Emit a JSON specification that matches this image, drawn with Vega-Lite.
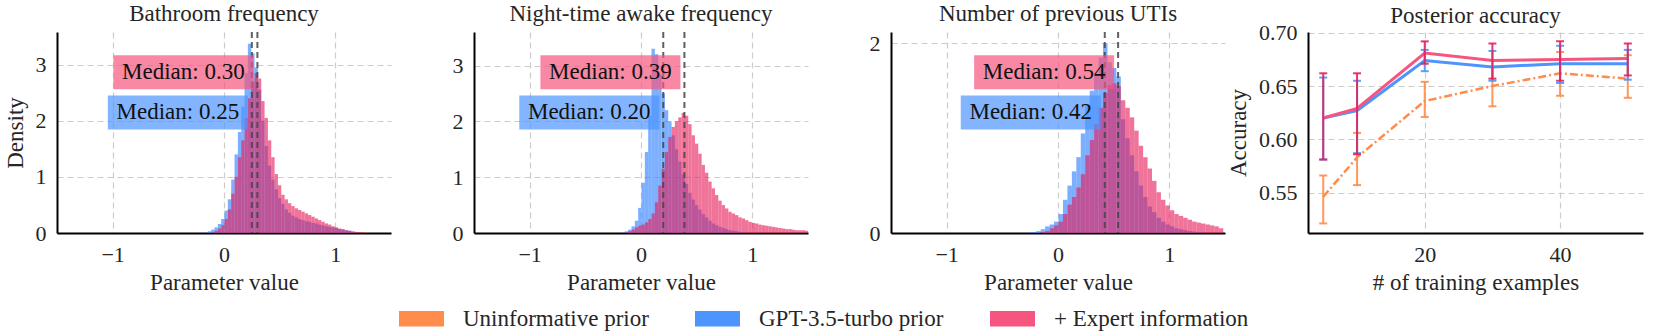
{
  "$schema": "https://vega.github.io/schema/vega-lite/v6.json",
  "padding": {"left": 4, "top": 3, "right": 5, "bottom": 2},
  "background": "white",
  "config": {
    "font": "Liberation Serif",
    "view": {"stroke": null},
    "axis": {
      "labelFont": "Liberation Serif", "labelFontSize": 22, "labelColor": "#262626",
      "titleFont": "Liberation Serif", "titleFontSize": 23, "titleFontWeight": "normal", "titleColor": "#262626",
      "domainColor": "#000000", "domainWidth": 2, "ticks": false,
      "grid": true, "gridColor": "#cccccc", "gridDash": [6, 4], "gridWidth": 1.2,
      "labelPadding": 11, "titlePadding": 6
    },
    "axisY": {"titlePadding": 8},
    "title": {"font": "Liberation Serif", "fontSize": 23, "fontWeight": "normal", "color": "#262626", "offset": 5},
    "legend": {
      "orient": "bottom", "direction": "horizontal", "title": null,
      "symbolType": "M-1,-0.34H1V0.34H-1Z", "symbolSize": 2025, "symbolStrokeWidth": 0, "symbolOpacity": 1,
      "labelFont": "Liberation Serif", "labelFontSize": 23, "labelColor": "#262626", "labelLimit": 400,
      "labelOffset": 19, "columnPadding": 46, "offset": 2,
      "layout": {"bottom": {"anchor": "middle"}}
    }
  },
  "datasets": {
    "bath_g": [
      {"b": -0.18, "d": 0.01}, {"b": -0.15, "d": 0.03}, {"b": -0.12, "d": 0.06}, {"b": -0.09, "d": 0.1},
      {"b": -0.06, "d": 0.16}, {"b": -0.03, "d": 0.25}, {"b": 0.0, "d": 0.4}, {"b": 0.03, "d": 0.6},
      {"b": 0.06, "d": 0.95}, {"b": 0.09, "d": 1.4}, {"b": 0.12, "d": 1.8}, {"b": 0.15, "d": 2.25},
      {"b": 0.18, "d": 2.85}, {"b": 0.21, "d": 3.37}, {"b": 0.24, "d": 3.2}, {"b": 0.27, "d": 2.95},
      {"b": 0.3, "d": 2.55}, {"b": 0.33, "d": 2.0}, {"b": 0.36, "d": 1.55}, {"b": 0.39, "d": 1.2},
      {"b": 0.42, "d": 0.95}, {"b": 0.45, "d": 0.78}, {"b": 0.48, "d": 0.62}, {"b": 0.51, "d": 0.52},
      {"b": 0.54, "d": 0.42}, {"b": 0.57, "d": 0.36}, {"b": 0.6, "d": 0.31}, {"b": 0.63, "d": 0.28},
      {"b": 0.66, "d": 0.25}, {"b": 0.69, "d": 0.23}, {"b": 0.72, "d": 0.21}, {"b": 0.75, "d": 0.2},
      {"b": 0.78, "d": 0.18}, {"b": 0.81, "d": 0.17}, {"b": 0.84, "d": 0.15}, {"b": 0.87, "d": 0.14},
      {"b": 0.9, "d": 0.12}, {"b": 0.93, "d": 0.11}, {"b": 0.96, "d": 0.1}, {"b": 0.99, "d": 0.09},
      {"b": 1.02, "d": 0.07}, {"b": 1.05, "d": 0.06}, {"b": 1.08, "d": 0.05}, {"b": 1.11, "d": 0.04},
      {"b": 1.14, "d": 0.02}, {"b": 1.17, "d": 0.01}
    ],
    "bath_e": [
      {"b": -0.12, "d": 0.01}, {"b": -0.09, "d": 0.04}, {"b": -0.06, "d": 0.08}, {"b": -0.03, "d": 0.14},
      {"b": 0.0, "d": 0.25}, {"b": 0.03, "d": 0.42}, {"b": 0.06, "d": 0.7}, {"b": 0.09, "d": 1.0},
      {"b": 0.12, "d": 1.35}, {"b": 0.15, "d": 1.65}, {"b": 0.18, "d": 2.05}, {"b": 0.21, "d": 2.4},
      {"b": 0.24, "d": 2.7}, {"b": 0.27, "d": 2.85}, {"b": 0.3, "d": 2.75}, {"b": 0.33, "d": 2.35},
      {"b": 0.36, "d": 2.05}, {"b": 0.39, "d": 1.65}, {"b": 0.42, "d": 1.35}, {"b": 0.45, "d": 1.05},
      {"b": 0.48, "d": 0.85}, {"b": 0.51, "d": 0.68}, {"b": 0.54, "d": 0.6}, {"b": 0.57, "d": 0.53},
      {"b": 0.6, "d": 0.48}, {"b": 0.63, "d": 0.44}, {"b": 0.66, "d": 0.41}, {"b": 0.69, "d": 0.38},
      {"b": 0.72, "d": 0.35}, {"b": 0.75, "d": 0.32}, {"b": 0.78, "d": 0.29}, {"b": 0.81, "d": 0.26},
      {"b": 0.84, "d": 0.23}, {"b": 0.87, "d": 0.2}, {"b": 0.9, "d": 0.17}, {"b": 0.93, "d": 0.15},
      {"b": 0.96, "d": 0.12}, {"b": 0.99, "d": 0.1}, {"b": 1.02, "d": 0.08}, {"b": 1.05, "d": 0.07},
      {"b": 1.08, "d": 0.05}, {"b": 1.11, "d": 0.04}, {"b": 1.14, "d": 0.03}, {"b": 1.17, "d": 0.02},
      {"b": 1.2, "d": 0.015}, {"b": 1.23, "d": 0.01}
    ],
    "night_g": [
      {"b": -0.18, "d": 0.01}, {"b": -0.15, "d": 0.03}, {"b": -0.12, "d": 0.06}, {"b": -0.09, "d": 0.12},
      {"b": -0.06, "d": 0.22}, {"b": -0.03, "d": 0.45}, {"b": 0.0, "d": 0.9}, {"b": 0.03, "d": 1.45},
      {"b": 0.06, "d": 2.1}, {"b": 0.09, "d": 3.3}, {"b": 0.12, "d": 3.2}, {"b": 0.15, "d": 2.85},
      {"b": 0.18, "d": 2.5}, {"b": 0.21, "d": 2.2}, {"b": 0.24, "d": 2.0}, {"b": 0.27, "d": 1.75},
      {"b": 0.3, "d": 1.5}, {"b": 0.33, "d": 1.28}, {"b": 0.36, "d": 1.05}, {"b": 0.39, "d": 0.88},
      {"b": 0.42, "d": 0.72}, {"b": 0.45, "d": 0.6}, {"b": 0.48, "d": 0.5}, {"b": 0.51, "d": 0.42},
      {"b": 0.54, "d": 0.34}, {"b": 0.57, "d": 0.28}, {"b": 0.6, "d": 0.22}, {"b": 0.63, "d": 0.17},
      {"b": 0.66, "d": 0.14}, {"b": 0.69, "d": 0.11}, {"b": 0.72, "d": 0.09}, {"b": 0.75, "d": 0.07},
      {"b": 0.78, "d": 0.05}, {"b": 0.81, "d": 0.04}, {"b": 0.84, "d": 0.03}, {"b": 0.87, "d": 0.02},
      {"b": 0.9, "d": 0.01}
    ],
    "night_e": [
      {"b": -0.15, "d": 0.01}, {"b": -0.12, "d": 0.03}, {"b": -0.09, "d": 0.06}, {"b": -0.06, "d": 0.1},
      {"b": -0.03, "d": 0.13}, {"b": 0.0, "d": 0.15}, {"b": 0.03, "d": 0.19}, {"b": 0.06, "d": 0.25},
      {"b": 0.09, "d": 0.35}, {"b": 0.12, "d": 0.55}, {"b": 0.15, "d": 0.85}, {"b": 0.18, "d": 1.15},
      {"b": 0.21, "d": 1.45}, {"b": 0.24, "d": 1.72}, {"b": 0.27, "d": 1.9}, {"b": 0.3, "d": 2.0},
      {"b": 0.33, "d": 2.07}, {"b": 0.36, "d": 2.15}, {"b": 0.39, "d": 2.1}, {"b": 0.42, "d": 1.95},
      {"b": 0.45, "d": 1.75}, {"b": 0.48, "d": 1.6}, {"b": 0.51, "d": 1.42}, {"b": 0.54, "d": 1.22},
      {"b": 0.57, "d": 1.08}, {"b": 0.6, "d": 0.92}, {"b": 0.63, "d": 0.8}, {"b": 0.66, "d": 0.68},
      {"b": 0.69, "d": 0.58}, {"b": 0.72, "d": 0.5}, {"b": 0.75, "d": 0.44}, {"b": 0.78, "d": 0.38},
      {"b": 0.81, "d": 0.35}, {"b": 0.84, "d": 0.32}, {"b": 0.87, "d": 0.28}, {"b": 0.9, "d": 0.26},
      {"b": 0.93, "d": 0.23}, {"b": 0.96, "d": 0.2}, {"b": 0.99, "d": 0.18}, {"b": 1.02, "d": 0.17},
      {"b": 1.05, "d": 0.15}, {"b": 1.08, "d": 0.14}, {"b": 1.11, "d": 0.13}, {"b": 1.14, "d": 0.12},
      {"b": 1.17, "d": 0.11}, {"b": 1.2, "d": 0.1}, {"b": 1.23, "d": 0.09}, {"b": 1.26, "d": 0.08},
      {"b": 1.29, "d": 0.07}, {"b": 1.32, "d": 0.07}, {"b": 1.35, "d": 0.06}, {"b": 1.38, "d": 0.05},
      {"b": 1.41, "d": 0.05}, {"b": 1.44, "d": 0.05}, {"b": 1.47, "d": 0.04}
    ],
    "uti_g": [
      {"b": -0.24, "d": 0.01}, {"b": -0.2, "d": 0.02}, {"b": -0.16, "d": 0.04}, {"b": -0.12, "d": 0.07},
      {"b": -0.08, "d": 0.09}, {"b": -0.04, "d": 0.12}, {"b": 0.0, "d": 0.2}, {"b": 0.04, "d": 0.35},
      {"b": 0.08, "d": 0.5}, {"b": 0.12, "d": 0.65}, {"b": 0.16, "d": 0.8}, {"b": 0.2, "d": 1.05},
      {"b": 0.24, "d": 1.35}, {"b": 0.28, "d": 1.5}, {"b": 0.32, "d": 1.67}, {"b": 0.36, "d": 1.85},
      {"b": 0.4, "d": 2.0}, {"b": 0.44, "d": 1.8}, {"b": 0.48, "d": 1.74}, {"b": 0.52, "d": 1.65},
      {"b": 0.56, "d": 1.2}, {"b": 0.6, "d": 1.0}, {"b": 0.64, "d": 0.82}, {"b": 0.68, "d": 0.65},
      {"b": 0.72, "d": 0.5}, {"b": 0.76, "d": 0.38}, {"b": 0.8, "d": 0.28}, {"b": 0.84, "d": 0.22},
      {"b": 0.88, "d": 0.16}, {"b": 0.92, "d": 0.12}, {"b": 0.96, "d": 0.09}, {"b": 1.0, "d": 0.07},
      {"b": 1.04, "d": 0.05}, {"b": 1.08, "d": 0.04}, {"b": 1.12, "d": 0.03}, {"b": 1.16, "d": 0.02},
      {"b": 1.2, "d": 0.015}, {"b": 1.24, "d": 0.01}, {"b": 1.28, "d": 0.01}
    ],
    "uti_e": [
      {"b": -0.16, "d": 0.01}, {"b": -0.12, "d": 0.02}, {"b": -0.08, "d": 0.05}, {"b": -0.04, "d": 0.08},
      {"b": 0.0, "d": 0.12}, {"b": 0.04, "d": 0.2}, {"b": 0.08, "d": 0.3}, {"b": 0.12, "d": 0.38},
      {"b": 0.16, "d": 0.48}, {"b": 0.2, "d": 0.62}, {"b": 0.24, "d": 0.82}, {"b": 0.28, "d": 0.98},
      {"b": 0.32, "d": 1.15}, {"b": 0.36, "d": 1.32}, {"b": 0.4, "d": 1.48}, {"b": 0.44, "d": 1.56},
      {"b": 0.48, "d": 1.58}, {"b": 0.52, "d": 1.55}, {"b": 0.56, "d": 1.4}, {"b": 0.6, "d": 1.32},
      {"b": 0.64, "d": 1.22}, {"b": 0.68, "d": 1.08}, {"b": 0.72, "d": 0.92}, {"b": 0.76, "d": 0.8},
      {"b": 0.8, "d": 0.68}, {"b": 0.84, "d": 0.55}, {"b": 0.88, "d": 0.43}, {"b": 0.92, "d": 0.35},
      {"b": 0.96, "d": 0.29}, {"b": 1.0, "d": 0.24}, {"b": 1.04, "d": 0.2}, {"b": 1.08, "d": 0.18},
      {"b": 1.12, "d": 0.16}, {"b": 1.16, "d": 0.14}, {"b": 1.2, "d": 0.12}, {"b": 1.24, "d": 0.11},
      {"b": 1.28, "d": 0.1}, {"b": 1.32, "d": 0.09}, {"b": 1.36, "d": 0.08}, {"b": 1.4, "d": 0.07},
      {"b": 1.44, "d": 0.05}
    ],
    "med": [
      {"p": "bath", "s": "e", "m": 0.30, "label": "Median: 0.30"},
      {"p": "bath", "s": "g", "m": 0.25, "label": "Median: 0.25"},
      {"p": "night", "s": "e", "m": 0.39, "label": "Median: 0.39"},
      {"p": "night", "s": "g", "m": 0.20, "label": "Median: 0.20"},
      {"p": "uti", "s": "e", "m": 0.54, "label": "Median: 0.54"},
      {"p": "uti", "s": "g", "m": 0.42, "label": "Median: 0.42"}
    ],
    "acc": [
      {"s": "Uninformative prior", "n": 5, "a": 0.546, "lo": 0.521, "hi": 0.566},
      {"s": "Uninformative prior", "n": 10, "a": 0.583, "lo": 0.557, "hi": 0.606},
      {"s": "Uninformative prior", "n": 20, "a": 0.636, "lo": 0.621, "hi": 0.654},
      {"s": "Uninformative prior", "n": 30, "a": 0.65, "lo": 0.631, "hi": 0.668},
      {"s": "Uninformative prior", "n": 40, "a": 0.662, "lo": 0.641, "hi": 0.682},
      {"s": "Uninformative prior", "n": 50, "a": 0.657, "lo": 0.639, "hi": 0.679},
      {"s": "GPT-3.5-turbo prior", "n": 5, "a": 0.62, "lo": 0.581, "hi": 0.658},
      {"s": "GPT-3.5-turbo prior", "n": 10, "a": 0.627, "lo": 0.587, "hi": 0.655},
      {"s": "GPT-3.5-turbo prior", "n": 20, "a": 0.674, "lo": 0.664, "hi": 0.684},
      {"s": "GPT-3.5-turbo prior", "n": 30, "a": 0.668, "lo": 0.655, "hi": 0.683},
      {"s": "GPT-3.5-turbo prior", "n": 40, "a": 0.671, "lo": 0.653, "hi": 0.688},
      {"s": "GPT-3.5-turbo prior", "n": 50, "a": 0.671, "lo": 0.656, "hi": 0.684},
      {"s": "+ Expert information", "n": 5, "a": 0.62, "lo": 0.581, "hi": 0.662},
      {"s": "+ Expert information", "n": 10, "a": 0.629, "lo": 0.586, "hi": 0.662},
      {"s": "+ Expert information", "n": 20, "a": 0.681, "lo": 0.671, "hi": 0.692},
      {"s": "+ Expert information", "n": 30, "a": 0.674, "lo": 0.657, "hi": 0.69},
      {"s": "+ Expert information", "n": 40, "a": 0.675, "lo": 0.655, "hi": 0.692},
      {"s": "+ Expert information", "n": 50, "a": 0.676, "lo": 0.66, "hi": 0.69}
    ]
  },
  "spacing": 83,
  "bounds": "flush",
  "hconcat": [
    {
      "width": 334, "height": 201,
      "title": "Bathroom frequency",
      "layer": [
        {
          "data": {"name": "bath_g"},
          "mark": {"type": "bar", "binSpacing": 0, "opacity": 0.64, "color": "#3282FF", "clip": true},
          "encoding": {
            "x": {"field": "b", "type": "quantitative", "bin": {"binned": true, "step": 0.03},
                  "scale": {"domain": [-1.5, 1.5], "nice": false, "zero": false},
                  "axis": {"values": [-1, 0, 1], "title": "Parameter value", "format": "d"}},
            "y": {"field": "d", "type": "quantitative", "scale": {"domain": [0, 3.58], "nice": false},
                  "axis": {"values": [0, 1, 2, 3], "title": "Density", "format": "d"}}
          }
        },
        {
          "data": {"name": "bath_e"},
          "mark": {"type": "bar", "binSpacing": 0, "opacity": 0.62, "color": "#E61E5A", "clip": true},
          "encoding": {
            "x": {"field": "b", "type": "quantitative", "bin": {"binned": true, "step": 0.03}},
            "y": {"field": "d", "type": "quantitative"}
          }
        },
        {
          "data": {"name": "med"},
          "transform": [{"filter": "datum.p === 'bath'"}],
          "mark": {"type": "rule", "strokeDash": [6, 4], "strokeWidth": 2, "color": "#444444", "opacity": 0.85},
          "encoding": {"x": {"field": "m", "type": "quantitative"}}
        },
        {
          "data": {"name": "med"},
          "transform": [{"filter": "datum.p === 'bath' && datum.s === 'e'"}],
          "mark": {"type": "point", "shape": "M-1,-0.243H1V0.243H-1Z", "size": 19600, "filled": true, "opacity": 0.7, "color": "#F5557E", "strokeWidth": 0, "xOffset": -74},
          "encoding": {"x": {"field": "m", "type": "quantitative"}, "y": {"datum": 2.864}}
        },
        {
          "data": {"name": "med"},
          "transform": [{"filter": "datum.p === 'bath' && datum.s === 'g'"}],
          "mark": {"type": "point", "shape": "M-1,-0.243H1V0.243H-1Z", "size": 19600, "filled": true, "opacity": 0.7, "color": "#4D94FF", "strokeWidth": 0, "xOffset": -74},
          "encoding": {"x": {"field": "m", "type": "quantitative"}, "y": {"datum": 2.148}}
        },
        {
          "data": {"name": "med"},
          "transform": [{"filter": "datum.p === 'bath' && datum.s === 'e'"}],
          "mark": {"type": "text", "font": "Liberation Serif", "fontSize": 23, "color": "#111111", "align": "center", "baseline": "middle", "dx": -74},
          "encoding": {"x": {"field": "m", "type": "quantitative"}, "y": {"datum": 2.864}, "text": {"field": "label"}}
        },
        {
          "data": {"name": "med"},
          "transform": [{"filter": "datum.p === 'bath' && datum.s === 'g'"}],
          "mark": {"type": "text", "font": "Liberation Serif", "fontSize": 23, "color": "#111111", "align": "center", "baseline": "middle", "dx": -74},
          "encoding": {"x": {"field": "m", "type": "quantitative"}, "y": {"datum": 2.148}, "text": {"field": "label"}}
        }
      ]
    },
    {
      "width": 334, "height": 201,
      "title": "Night-time awake frequency",
      "layer": [
        {
          "data": {"name": "night_g"},
          "mark": {"type": "bar", "binSpacing": 0, "opacity": 0.64, "color": "#3282FF", "clip": true},
          "encoding": {
            "x": {"field": "b", "type": "quantitative", "bin": {"binned": true, "step": 0.03},
                  "scale": {"domain": [-1.5, 1.5], "nice": false, "zero": false},
                  "axis": {"values": [-1, 0, 1], "title": "Parameter value", "format": "d"}},
            "y": {"field": "d", "type": "quantitative", "scale": {"domain": [0, 3.6], "nice": false},
                  "axis": {"values": [0, 1, 2, 3], "title": null, "format": "d"}}
          }
        },
        {
          "data": {"name": "night_e"},
          "mark": {"type": "bar", "binSpacing": 0, "opacity": 0.62, "color": "#E61E5A", "clip": true},
          "encoding": {
            "x": {"field": "b", "type": "quantitative", "bin": {"binned": true, "step": 0.03}},
            "y": {"field": "d", "type": "quantitative"}
          }
        },
        {
          "data": {"name": "med"},
          "transform": [{"filter": "datum.p === 'night'"}],
          "mark": {"type": "rule", "strokeDash": [6, 4], "strokeWidth": 2, "color": "#444444", "opacity": 0.85},
          "encoding": {"x": {"field": "m", "type": "quantitative"}}
        },
        {
          "data": {"name": "med"},
          "transform": [{"filter": "datum.p === 'night' && datum.s === 'e'"}],
          "mark": {"type": "point", "shape": "M-1,-0.243H1V0.243H-1Z", "size": 19600, "filled": true, "opacity": 0.7, "color": "#F5557E", "strokeWidth": 0, "xOffset": -74},
          "encoding": {"x": {"field": "m", "type": "quantitative"}, "y": {"datum": 2.88}}
        },
        {
          "data": {"name": "med"},
          "transform": [{"filter": "datum.p === 'night' && datum.s === 'g'"}],
          "mark": {"type": "point", "shape": "M-1,-0.243H1V0.243H-1Z", "size": 19600, "filled": true, "opacity": 0.7, "color": "#4D94FF", "strokeWidth": 0, "xOffset": -74},
          "encoding": {"x": {"field": "m", "type": "quantitative"}, "y": {"datum": 2.16}}
        },
        {
          "data": {"name": "med"},
          "transform": [{"filter": "datum.p === 'night' && datum.s === 'e'"}],
          "mark": {"type": "text", "font": "Liberation Serif", "fontSize": 23, "color": "#111111", "align": "center", "baseline": "middle", "dx": -74},
          "encoding": {"x": {"field": "m", "type": "quantitative"}, "y": {"datum": 2.88}, "text": {"field": "label"}}
        },
        {
          "data": {"name": "med"},
          "transform": [{"filter": "datum.p === 'night' && datum.s === 'g'"}],
          "mark": {"type": "text", "font": "Liberation Serif", "fontSize": 23, "color": "#111111", "align": "center", "baseline": "middle", "dx": -74},
          "encoding": {"x": {"field": "m", "type": "quantitative"}, "y": {"datum": 2.16}, "text": {"field": "label"}}
        }
      ]
    },
    {
      "width": 334, "height": 201,
      "title": "Number of previous UTIs",
      "layer": [
        {
          "data": {"name": "uti_g"},
          "mark": {"type": "bar", "binSpacing": 0, "opacity": 0.64, "color": "#3282FF", "clip": true},
          "encoding": {
            "x": {"field": "b", "type": "quantitative", "bin": {"binned": true, "step": 0.04},
                  "scale": {"domain": [-1.5, 1.5], "nice": false, "zero": false},
                  "axis": {"values": [-1, 0, 1], "title": "Parameter value", "format": "d"}},
            "y": {"field": "d", "type": "quantitative", "scale": {"domain": [0, 2.12], "nice": false},
                  "axis": {"values": [0, 1, 2], "title": null, "format": "d"}}
          }
        },
        {
          "data": {"name": "uti_e"},
          "mark": {"type": "bar", "binSpacing": 0, "opacity": 0.62, "color": "#E61E5A", "clip": true},
          "encoding": {
            "x": {"field": "b", "type": "quantitative", "bin": {"binned": true, "step": 0.04}},
            "y": {"field": "d", "type": "quantitative"}
          }
        },
        {
          "data": {"name": "med"},
          "transform": [{"filter": "datum.p === 'uti'"}],
          "mark": {"type": "rule", "strokeDash": [6, 4], "strokeWidth": 2, "color": "#444444", "opacity": 0.85},
          "encoding": {"x": {"field": "m", "type": "quantitative"}}
        },
        {
          "data": {"name": "med"},
          "transform": [{"filter": "datum.p === 'uti' && datum.s === 'e'"}],
          "mark": {"type": "point", "shape": "M-1,-0.243H1V0.243H-1Z", "size": 19600, "filled": true, "opacity": 0.7, "color": "#F5557E", "strokeWidth": 0, "xOffset": -74},
          "encoding": {"x": {"field": "m", "type": "quantitative"}, "y": {"datum": 1.696}}
        },
        {
          "data": {"name": "med"},
          "transform": [{"filter": "datum.p === 'uti' && datum.s === 'g'"}],
          "mark": {"type": "point", "shape": "M-1,-0.243H1V0.243H-1Z", "size": 19600, "filled": true, "opacity": 0.7, "color": "#4D94FF", "strokeWidth": 0, "xOffset": -74},
          "encoding": {"x": {"field": "m", "type": "quantitative"}, "y": {"datum": 1.272}}
        },
        {
          "data": {"name": "med"},
          "transform": [{"filter": "datum.p === 'uti' && datum.s === 'e'"}],
          "mark": {"type": "text", "font": "Liberation Serif", "fontSize": 23, "color": "#111111", "align": "center", "baseline": "middle", "dx": -74},
          "encoding": {"x": {"field": "m", "type": "quantitative"}, "y": {"datum": 1.696}, "text": {"field": "label"}}
        },
        {
          "data": {"name": "med"},
          "transform": [{"filter": "datum.p === 'uti' && datum.s === 'g'"}],
          "mark": {"type": "text", "font": "Liberation Serif", "fontSize": 23, "color": "#111111", "align": "center", "baseline": "middle", "dx": -74},
          "encoding": {"x": {"field": "m", "type": "quantitative"}, "y": {"datum": 1.272}, "text": {"field": "label"}}
        }
      ]
    },
    {
      "width": 335, "height": 201,
      "title": {"text": "Posterior accuracy", "offset": -6},
      "data": {"name": "acc"},
      "encoding": {
        "x": {"field": "n", "type": "quantitative", "scale": {"domain": [2.75, 52.25], "nice": false, "zero": false},
              "axis": {"values": [20, 40], "title": "# of training examples"}}
      },
      "layer": [
        {
          "transform": [{"filter": "datum.s === 'Uninformative prior'"}],
          "mark": {"type": "line", "strokeWidth": 2.5, "strokeDash": [8, 3, 2, 3]},
          "encoding": {
            "y": {"field": "a", "type": "quantitative", "title": "Accuracy",
                  "scale": {"domain": [0.512, 0.7008], "nice": false, "zero": false},
                  "axis": {"values": [0.55, 0.6, 0.65, 0.7], "format": ".2f"}},
            "color": {"field": "s", "type": "nominal",
                      "scale": {"domain": ["Uninformative prior", "GPT-3.5-turbo prior", "+ Expert information"],
                                "range": ["#FF8C4B", "#4D94FF", "#F5557E"]},
                      "legend": {"orient": "bottom", "direction": "horizontal", "title": null,
                                 "symbolType": "M-1,-0.34H1V0.34H-1Z", "symbolSize": 2025,
                                 "encode": {"symbols": {"update": {
                                   "fill": {"scale": "color", "field": "value"},
                                   "stroke": {"value": "transparent"},
                                   "strokeDash": {"value": [1, 0]},
                                   "opacity": {"value": 1}}}}}}
          }
        },
        {
          "transform": [{"filter": "datum.s === 'Uninformative prior'"}],
          "mark": {"type": "errorbar", "ticks": {"size": 8, "thickness": 2}, "thickness": 2, "color": "#FF8C4B", "opacity": 0.9},
          "encoding": {"y": {"field": "lo", "type": "quantitative", "title": "Accuracy"}, "y2": {"field": "hi"}}
        },
        {
          "transform": [{"filter": "datum.s === 'GPT-3.5-turbo prior'"}],
          "mark": {"type": "line", "strokeWidth": 3},
          "encoding": {"y": {"field": "a", "type": "quantitative", "title": "Accuracy"},
                       "color": {"field": "s", "type": "nominal", "legend": null}}
        },
        {
          "transform": [{"filter": "datum.s === 'GPT-3.5-turbo prior'"}],
          "mark": {"type": "errorbar", "ticks": {"size": 8, "thickness": 2}, "thickness": 2, "color": "#4D94FF", "opacity": 0.9},
          "encoding": {"y": {"field": "lo", "type": "quantitative", "title": "Accuracy"}, "y2": {"field": "hi"}}
        },
        {
          "transform": [{"filter": "datum.s === '+ Expert information'"}],
          "mark": {"type": "line", "strokeWidth": 3},
          "encoding": {"y": {"field": "a", "type": "quantitative", "title": "Accuracy"},
                       "color": {"field": "s", "type": "nominal", "legend": null}}
        },
        {
          "transform": [{"filter": "datum.s === '+ Expert information'"}],
          "mark": {"type": "errorbar", "ticks": {"size": 8, "thickness": 2}, "thickness": 2, "color": "#E3245A", "opacity": 0.9},
          "encoding": {"y": {"field": "lo", "type": "quantitative", "title": "Accuracy"}, "y2": {"field": "hi"}}
        }
      ]
    }
  ]
}
